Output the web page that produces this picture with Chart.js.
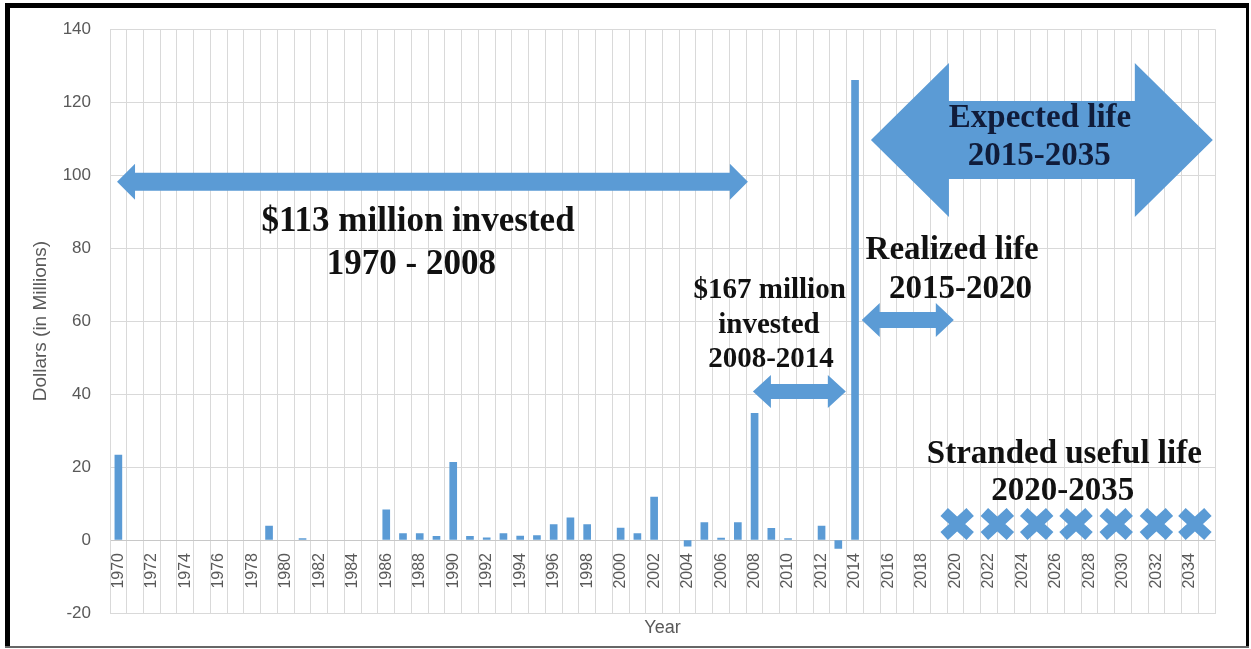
<!DOCTYPE html>
<html>
<head>
<meta charset="utf-8">
<title>Annual investment, 1970-2035</title>
<script src="https://cdn.jsdelivr.net/npm/chart.js@4.4.1/dist/chart.umd.min.js"></script>
<style>
  body { margin: 0; background: #fff; }
  #wrap { width: 1251px; height: 649px; }
</style>
</head>
<body>
<div id="wrap"><canvas id="invest" width="1251" height="649"></canvas></div>
<script>
// categories on the x axis
const years = [
  1970, 1971, 1972, 1973, 1974, 1975, 1976, 1977, 1978, 1979,
  1980, 1981, 1982, 1983, 1984, 1985, 1986, 1987, 1988, 1989,
  1990, 1991, 1992, 1993, 1994, 1995, 1996, 1997, 1998, 1999,
  2000, 2001, 2002, 2003, 2004, 2005, 2006, 2007, 2008, 2009,
  2010, 2011, 2012, 2013, 2014, 2015, 2016, 2017, 2018, 2019,
  2020, 2021, 2022, 2023, 2024, 2025, 2026, 2027, 2028, 2029,
  2030, 2031, 2032, 2033, 2034, 2035
];

// labelled years (every second one)
const tickYears = [
  1970, 1972, 1974, 1976, 1978, 1980, 1982, 1984, 1986, 1988,
  1990, 1992, 1994, 1996, 1998, 2000, 2002, 2004, 2006, 2008,
  2010, 2012, 2014, 2016, 2018, 2020, 2022, 2024, 2026, 2028,
  2030, 2032, 2034
];

// dollars spent per year, millions (1970 - 2014); null = nothing spent
const spending = [
  23.3, null, null, null, null, null, null, null, null, 3.8,
  null, 0.4, null, null, null, null, 8.3, 1.8, 1.8, 1.0,
  21.3, 1.0, 0.6, 1.8, 1.1, 1.2, 4.2, 6.1, 4.2, null,
  3.3, 1.8, 11.8, null, -1.7, 4.8, 0.5, 4.8, 34.7, 3.2,
  0.4, null, 3.8, -2.3, 126
];

// where the "stranded" crosses sit (year, value)
const strandedYears = [2020.1, 2022.5, 2024.85, 2027.2, 2029.6, 2032.0, 2034.3];
const strandedLevel = 4.4;

const BLUE = '#5b9bd5';
const GRID = '#d9d9d9';
const AXIS_TEXT = '#595959';

Chart.defaults.font.family = '"Liberation Sans", Arial, sans-serif';

// block arrows: ends in years, height in dollars, sizes in px
const arrows = [
  { from: 1969.92, to: 2007.6, at: 98.2, shaft: 9, head: 18, len: 18 },
  { from: 2007.9, to: 2013.45, at: 40.7, shaft: 7.5, head: 16.5, len: 18 },
  { from: 2014.4, to: 2019.9, at: 60.3, shaft: 8, head: 17, len: 18 },
  { from: 2014.95, to: 2035.37, at: 109.6, shaft: 39, head: 77, len: 78 }
];

// text callouts, centred on year, baseline at value
const notes = [
  { text: '$113 million invested', year: 1987.9, at: 84.6, size: 35 },
  { text: '1970 - 2008', year: 1987.5, at: 72.8, size: 35 },
  { text: '$167 million', year: 2008.9, at: 66.3, size: 29 },
  { text: 'invested', year: 2008.86, at: 56.7, size: 29 },
  { text: '2008-2014', year: 2008.98, at: 47.4, size: 29 },
  { text: 'Realized life', year: 2019.8, at: 76.9, size: 33 },
  { text: '2015-2020', year: 2020.3, at: 66.3, size: 33 },
  { text: 'Expected life', year: 2025.05, at: 113.2, size: 33, color: '#101c3a' },
  { text: '2015-2035', year: 2025.0, at: 102.9, size: 33, color: '#101c3a' },
  { text: 'Stranded useful life', year: 2026.5, at: 21.2, size: 33 },
  { text: '2020-2035', year: 2026.4, at: 10.9, size: 33 }
];

function drawArrow(ctx, x1, x2, yc, a) {
  ctx.beginPath();
  ctx.moveTo(x1, yc);
  ctx.lineTo(x1 + a.len, yc - a.head);
  ctx.lineTo(x1 + a.len, yc - a.shaft);
  ctx.lineTo(x2 - a.len, yc - a.shaft);
  ctx.lineTo(x2 - a.len, yc - a.head);
  ctx.lineTo(x2, yc);
  ctx.lineTo(x2 - a.len, yc + a.head);
  ctx.lineTo(x2 - a.len, yc + a.shaft);
  ctx.lineTo(x1 + a.len, yc + a.shaft);
  ctx.lineTo(x1 + a.len, yc + a.head);
  ctx.closePath();
  ctx.fill();
}

const overlay = {
  id: 'overlay',
  afterDatasetsDraw(chart) {
    const ctx = chart.ctx;
    const xs = chart.scales.x, ys = chart.scales.y;
    const px = yr => xs.getPixelForValue(yr - years[0]);
    const py = v => ys.getPixelForValue(v);
    ctx.save();

    // year labels hang under the zero line
    ctx.fillStyle = AXIS_TEXT;
    ctx.font = '16px "Liberation Sans"';
    ctx.textAlign = 'right';
    ctx.textBaseline = 'middle';
    const y0 = py(0);
    tickYears.forEach(yr => {
      ctx.save();
      ctx.translate(px(yr), y0 + 13);
      ctx.rotate(-Math.PI / 2);
      ctx.fillText(String(yr), 0, 0);
      ctx.restore();
    });

    ctx.fillStyle = BLUE;
    arrows.forEach(a => drawArrow(ctx, px(a.from), px(a.to), py(a.at), a));

    // fat crosses
    ctx.strokeStyle = BLUE;
    ctx.lineWidth = 11;
    ctx.lineCap = 'butt';
    strandedYears.forEach(yr => {
      const cx = px(yr), cy = py(strandedLevel);
      ctx.beginPath();
      ctx.moveTo(cx - 13, cy - 12);
      ctx.lineTo(cx + 13, cy + 12);
      ctx.moveTo(cx - 13, cy + 12);
      ctx.lineTo(cx + 13, cy - 12);
      ctx.stroke();
    });

    ctx.textAlign = 'center';
    ctx.textBaseline = 'alphabetic';
    notes.forEach(n => {
      ctx.font = `bold ${n.size}px "Liberation Serif"`;
      ctx.fillStyle = n.color || '#111';
      ctx.fillText(n.text, px(n.year), py(n.at));
    });
    ctx.restore();
  },
  afterDraw(chart) {
    // picture frame
    const ctx = chart.ctx;
    ctx.save();
    ctx.fillStyle = '#000';
    ctx.fillRect(5, 3, 5, 645);
    ctx.fillRect(5, 3, 1244, 5);
    ctx.fillRect(1246, 3, 3, 645);
    ctx.fillStyle = '#666';
    ctx.fillRect(5, 646, 1244, 2);
    ctx.restore();
  }
};

new Chart(document.getElementById('invest'), {
  type: 'bar',
  data: {
    labels: years.map(String),
    datasets: [{
      data: spending,
      backgroundColor: BLUE,
      barThickness: 7
    }]
  },
  options: {
    responsive: false,
    animation: false,
    layout: { padding: { left: 24, top: 27, right: 36, bottom: 6 } },
    plugins: {
      legend: { display: false },
      tooltip: { enabled: false }
    },
    scales: {
      x: {
        grid: { color: GRID, offset: true, drawTicks: false },
        border: { color: GRID },
        ticks: { display: false, autoSkip: false },
        title: {
          display: true,
          text: 'Year',
          color: AXIS_TEXT,
          font: { size: 18 },
          padding: { top: 4, bottom: 4 }
        },
        afterFit: s => { s.height = 30; }
      },
      y: {
        min: -20,
        max: 140,
        ticks: { stepSize: 20, color: AXIS_TEXT, font: { size: 17 }, padding: 19 },
        grid: {
          color: c => (c.tick && c.tick.value === 0 ? '#c8c8c8' : GRID),
          drawTicks: false
        },
        border: { color: GRID },
        title: {
          display: true,
          text: 'Dollars (in Millions)',
          color: AXIS_TEXT,
          font: { size: 19 },
          padding: { top: 5, bottom: 0 }
        },
        afterFit: s => { s.width = 86; }
      }
    }
  },
  plugins: [overlay]
});
</script>
</body>
</html>
